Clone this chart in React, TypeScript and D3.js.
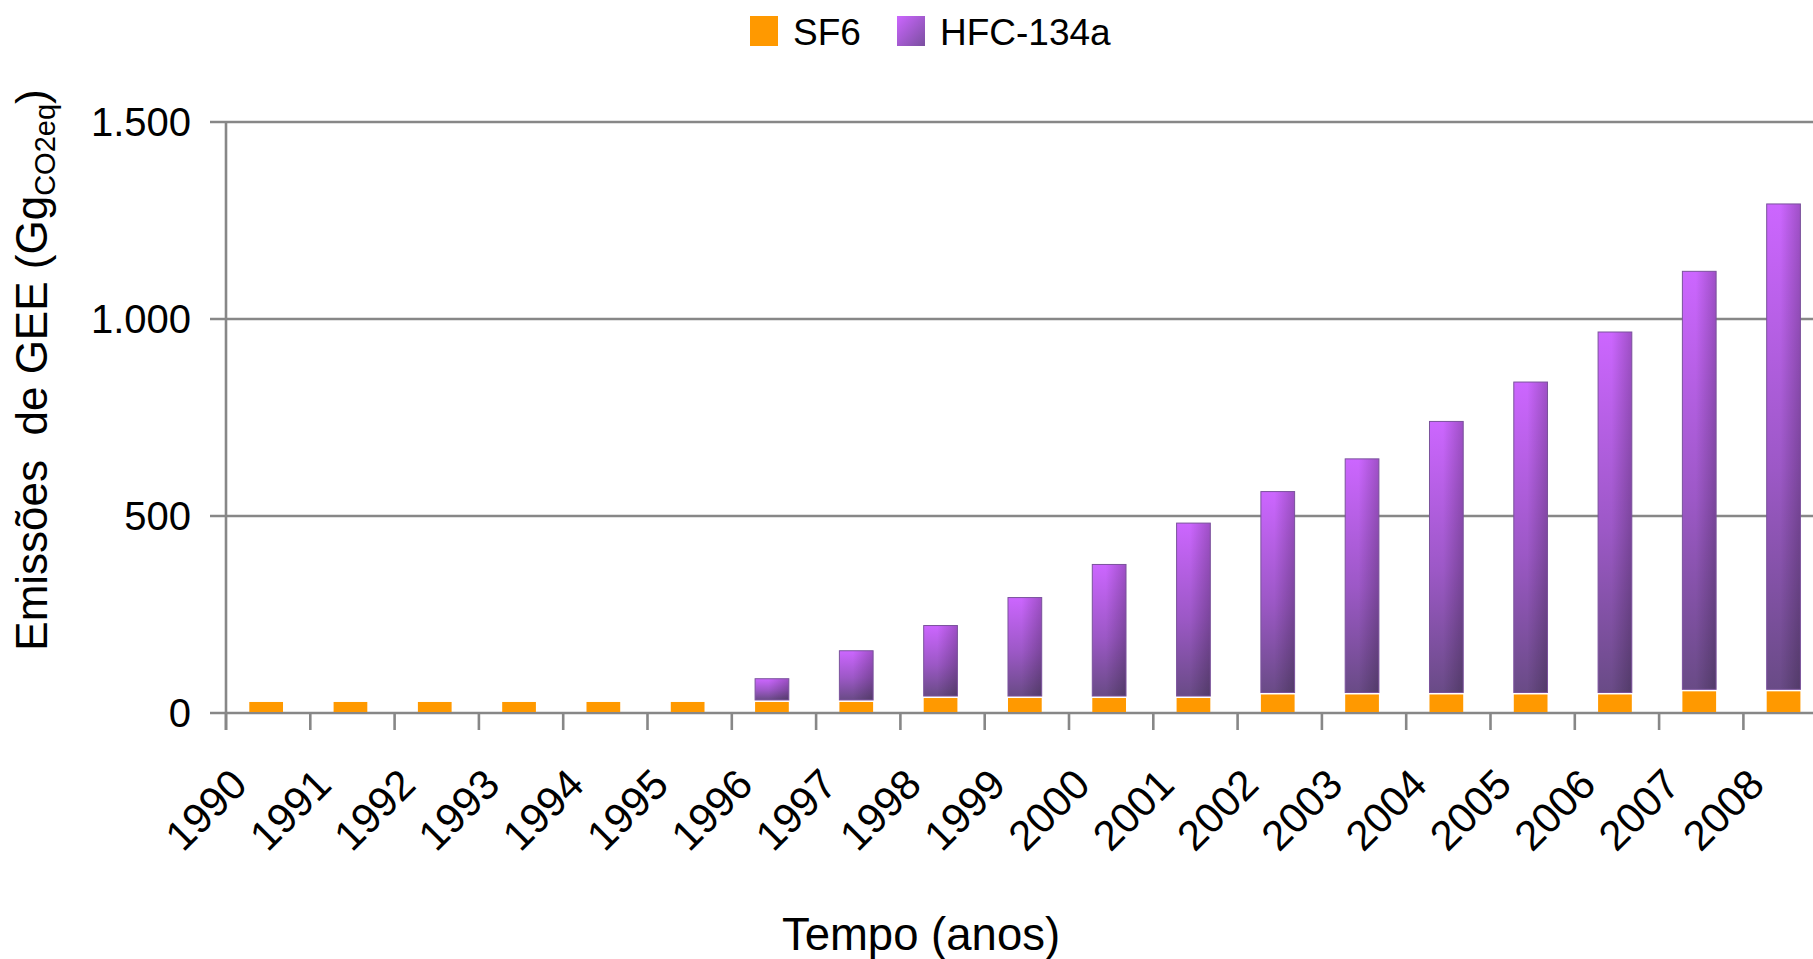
import React, { useEffect, useRef } from "react";
import * as d3 from "d3";

const years = ["1990", "1991", "1992", "1993", "1994", "1995", "1996", "1997", "1998", "1999",
  "2000", "2001", "2002", "2003", "2004", "2005", "2006", "2007", "2008"];
const sf6 = [28, 28, 28, 28, 28, 28, 28, 28, 38, 38, 38, 38, 47, 47, 47, 47, 47, 55, 55];
const hfc134a = [0, 0, 0, 0, 0, 0, 59, 130, 184, 255, 339, 444, 515, 598, 693, 793, 920, 1066, 1237];
const yTicks = [0, 500, 1000, 1500];
const yTickLabels = ["0", "500", "1.000", "1.500"];
const seriesNames = ["SF6", "HFC-134a"];

const FONT = "'Liberation Sans', Arial, sans-serif";

const App = () => {
  const svgRef = useRef(null);

  useEffect(() => {
    const width = 1813;
    const height = 959;
    const svg = d3.select(svgRef.current);
    svg.selectAll("*").remove();
    svg.attr("width", width).attr("height", height);

    const left = 226;
    const step = 84.3;
    const baseY = 713;
    const topY = 122;

    // gradients
    const defs = svg.append("defs");
    const gv = defs.append("linearGradient").attr("id", "hfcV")
      .attr("x1", 0).attr("y1", 0).attr("x2", 0).attr("y2", 1);
    gv.append("stop").attr("offset", "0").attr("stop-color", "#cc66ff");
    gv.append("stop").attr("offset", "0.55").attr("stop-color", "#9c58c6");
    gv.append("stop").attr("offset", "1").attr("stop-color", "#694b86");
    const gh = defs.append("linearGradient").attr("id", "hfcH")
      .attr("x1", 0).attr("y1", 0).attr("x2", 1).attr("y2", 0);
    gh.append("stop").attr("offset", "0").attr("stop-color", "#000").attr("stop-opacity", 0);
    gh.append("stop").attr("offset", "0.4").attr("stop-color", "#000").attr("stop-opacity", 0);
    gh.append("stop").attr("offset", "1").attr("stop-color", "#000").attr("stop-opacity", 0.22);
    const gl = defs.append("linearGradient").attr("id", "hfcLeg")
      .attr("x1", 0).attr("y1", 0).attr("x2", 1).attr("y2", 1);
    gl.append("stop").attr("offset", "0").attr("stop-color", "#cc66ff");
    gl.append("stop").attr("offset", "1").attr("stop-color", "#7a4f9f");

    // Scales
    const xCat = d3.scaleBand().domain(years).range([left, left + step * years.length]);
    const xBar = d3.scaleBand().domain(years)
      .range([left - 2, left - 2 + step * years.length])
      .paddingInner(0.6).paddingOuter(0.3);
    const y = d3.scaleLinear().domain([0, 1500]).range([baseY, topY]);

    // grid lines
    svg.append("g").selectAll("line")
      .data(yTicks)
      .enter()
      .append("line")
      .attr("x1", left - 16).attr("x2", width)
      .attr("y1", d => y(d)).attr("y2", d => y(d))
      .attr("stroke", "#878787").attr("stroke-width", 2.6);

    // y tick labels
    svg.append("g").selectAll("text")
      .data(yTicks)
      .enter()
      .append("text")
      .attr("x", 191).attr("y", d => y(d))
      .attr("dy", "0.36em")
      .attr("text-anchor", "end")
      .attr("font-family", FONT).attr("font-size", 40)
      .text((d, i) => yTickLabels[i]);

    // x ticks
    svg.append("g").selectAll("line")
      .data(years)
      .enter()
      .append("line")
      .attr("x1", d => xCat(d)).attr("x2", d => xCat(d))
      .attr("y1", baseY).attr("y2", baseY + 17)
      .attr("stroke", "#878787").attr("stroke-width", 2.6);

    // y axis line
    svg.append("line")
      .attr("x1", left).attr("x2", left)
      .attr("y1", topY).attr("y2", baseY + 17)
      .attr("stroke", "#878787").attr("stroke-width", 2.6);

    // SF6 bars
    svg.append("g").selectAll("rect")
      .data(years)
      .enter()
      .append("rect")
      .attr("x", d => xBar(d))
      .attr("y", (d, i) => y(sf6[i]))
      .attr("width", xBar.bandwidth())
      .attr("height", (d, i) => baseY - 1 - y(sf6[i]))
      .attr("fill", "#ff9900");

    // HFC-134a bars
    const hfcData = years.map((d, i) => ({ year: d, lo: sf6[i], hi: sf6[i] + hfc134a[i] }))
      .filter(d => d.hi > d.lo);
    const hg = svg.append("g");
    hg.selectAll("rect.v")
      .data(hfcData)
      .enter()
      .append("rect")
      .attr("class", "v")
      .attr("x", d => xBar(d.year))
      .attr("y", d => y(d.hi))
      .attr("width", xBar.bandwidth())
      .attr("height", d => y(d.lo) - y(d.hi) - 2)
      .attr("fill", "url(#hfcV)");
    hg.selectAll("rect.h")
      .data(hfcData)
      .enter()
      .append("rect")
      .attr("class", "h")
      .attr("x", d => xBar(d.year))
      .attr("y", d => y(d.hi))
      .attr("width", xBar.bandwidth())
      .attr("height", d => y(d.lo) - y(d.hi) - 2)
      .attr("fill", "url(#hfcH)")
      .attr("stroke", "#7a529c").attr("stroke-width", 1);

    // x labels
    svg.append("g").selectAll("text")
      .data(years)
      .enter()
      .append("text")
      .attr("transform", d => `translate(${xCat(d) + xCat.bandwidth() / 2 - 19},787) rotate(-45)`)
      .attr("text-anchor", "end")
      .attr("font-family", FONT).attr("font-size", 42)
      .text(d => d);

    // axis titles
    svg.append("text")
      .attr("x", 921).attr("y", 950)
      .attr("text-anchor", "middle")
      .attr("font-family", FONT).attr("font-size", 45.5)
      .text("Tempo (anos)");

    const yt = svg.append("text")
      .attr("transform", "translate(47,370) rotate(-90)")
      .attr("text-anchor", "middle")
      .attr("font-family", FONT).attr("font-size", 44)
      .style("white-space", "pre");
    yt.append("tspan").text("Emissões  de GEE (Gg");
    yt.append("tspan").attr("dy", 8).attr("font-size", 29).text("CO2eq");
    yt.append("tspan").attr("dy", -8).text(")");

    // legend
    const legend = svg.append("g");
    const legX = [750, 897];
    const legFill = ["#ff9900", "url(#hfcLeg)"];
    seriesNames.forEach((name, i) => {
      legend.append("rect")
        .attr("x", legX[i]).attr("y", 16)
        .attr("width", 28).attr("height", 30)
        .attr("fill", legFill[i]);
      legend.append("text")
        .attr("x", legX[i] + 43).attr("y", 45)
        .attr("font-family", FONT).attr("font-size", 37)
        .text(name);
    });
  }, []);

  return <svg ref={svgRef} style={{ position: "absolute", left: 0, top: 0 }}></svg>;
};

export default App;
